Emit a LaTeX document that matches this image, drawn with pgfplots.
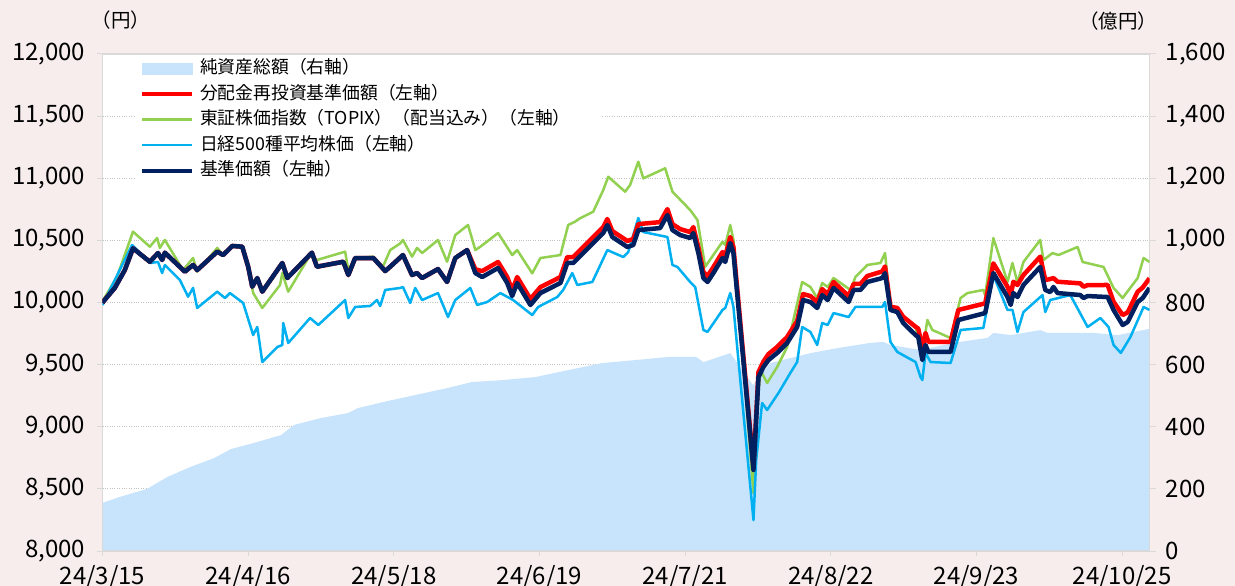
\documentclass[border=0pt]{standalone}
\usepackage{fontspec}
\setmainfont{Noto Sans CJK JP}
\usepackage{pgfplots}
\usepackage{pgfplotstable}
\pgfplotsset{compat=1.18}
\definecolor{bgpink}{RGB}{247,237,237}
\definecolor{areablue}{RGB}{200,228,252}
\definecolor{tpxgreen}{RGB}{146,208,80}
\definecolor{nblue}{RGB}{0,176,240}
\definecolor{navyb}{RGB}{0,32,96}
\definecolor{axgray}{RGB}{217,217,217}
\definecolor{gridgray}{RGB}{195,195,195}
\newcommand\tickfont{\fontsize{24bp}{28bp}\selectfont}
\newcommand\legfont{\fontsize{17.8bp}{20bp}\selectfont}
\newcommand\unitfont{\fontsize{19.5bp}{22bp}\selectfont}

\pgfplotstableread{
d aum
0 155
3.8 174
9.8 200
14.2 238
19.2 270
24.5 299
28.2 328
33.3 348
39.2 373
42.1 406
48.0 428
53.9 444
56.1 460
62.7 483
68.7 502
75.9 525
81.2 544
87.8 550
95.1 560
102.5 583
109.8 605
117.3 615
124.5 625
130.4 625
132.0 608
137.9 637
142.9 534
146.7 605
155.5 637
161.4 653
168.7 670
171.5 673
173.1 663
179.7 647
186.9 670
194.4 686
195.7 702
199.5 695
206.0 711
207.6 702
217.7 702
223.0 695
230.0 715
}\aumtable

\pgfplotstableread{
d v
0 10000
2.7 10117
4.9 10261
6.7 10436
10.4 10328
12.2 10398
13.1 10342
13.7 10401
18.1 10248
19.9 10302
20.8 10261
25.2 10409
26.5 10382
28.5 10455
30.7 10449
32.0 10288
32.9 10127
34.0 10197
35.1 10087
39.5 10318
40.6 10197
46.0 10401
47.1 10288
52.9 10328
54.0 10221
55.5 10358
59.5 10358
62.1 10253
63.2 10288
66.0 10382
68.0 10221
69.1 10237
70.2 10197
73.7 10269
75.7 10165
77.5 10358
80.1 10422
81.9 10237
83.4 10205
86.9 10278
88.9 10157
90.0 10052
91.1 10157
94.0 9980
96.2 10076
100.6 10157
102.1 10318
103.4 10318
110.0 10559
110.9 10624
112.0 10527
115.3 10447
116.6 10463
117.7 10583
122.5 10599
124.1 10704
125.2 10583
126.9 10543
129.1 10519
129.8 10559
130.9 10398
132.0 10197
132.9 10165
134.2 10237
136.2 10358
136.8 10326
137.9 10479
138.6 10398
143.0 8652
143.6 9054
144.1 9400
145.2 9481
146.3 9537
148.2 9594
150.4 9674
152.6 9803
153.9 10020
155.5 10004
157.0 9956
158.1 10060
159.3 10020
160.6 10117
163.9 10004
165.0 10101
166.5 10101
168.0 10165
171.3 10197
171.9 10237
173.1 9940
174.6 9923
175.9 9835
178.6 9738
179.2 9722
180.1 9537
180.8 9658
181.4 9602
186.3 9602
188.0 9859
193.9 9915
195.7 10237
198.8 10044
199.5 9980
200.1 10076
201.0 10044
202.3 10141
206.0 10286
207.1 10101
208.2 10084
208.9 10125
209.8 10076
214.8 10060
215.5 10036
216.4 10052
220.8 10044
222.1 9940
224.1 9819
225.2 9843
227.4 10004
228.5 10036
230.0 10117
}\navtable

\pgfplotstableread{
d v
0 10000
2.7 10117
4.9 10261
6.7 10436
10.4 10328
12.2 10398
13.1 10342
13.7 10401
18.1 10248
19.9 10302
20.8 10261
25.2 10409
26.5 10382
28.5 10455
30.7 10449
32.0 10288
32.9 10127
34.0 10197
35.1 10087
39.5 10318
40.6 10197
46.0 10401
47.1 10288
52.9 10328
54.0 10221
55.5 10358
59.5 10358
62.1 10253
63.2 10288
66.0 10382
68.0 10221
69.1 10237
70.2 10197
73.7 10269
75.7 10165
77.5 10358
80.1 10422
81.9 10267
83.4 10253
86.9 10326
88.9 10205
90.0 10100
91.1 10205
94.0 10028
96.2 10124
100.6 10205
102.1 10366
103.4 10366
110.0 10607
110.9 10672
112.0 10575
115.3 10495
116.6 10511
117.7 10631
122.5 10647
124.1 10752
125.2 10631
126.9 10591
129.1 10567
129.8 10607
130.9 10446
132.0 10245
132.9 10213
134.2 10285
136.2 10406
136.8 10374
137.9 10527
138.6 10446
143.0 8680
143.6 9090
144.1 9440
145.2 9525
146.3 9585
148.2 9642
150.4 9722
152.6 9851
153.9 10068
155.5 10052
157.0 10004
158.1 10108
159.3 10068
160.6 10165
163.9 10052
165.0 10149
166.5 10149
168.0 10213
171.3 10250
171.9 10290
173.1 9966
174.6 9956
175.9 9885
178.6 9805
179.2 9790
180.1 9634
180.8 9754
181.4 9684
186.3 9684
188.0 9940
193.9 9993
195.7 10315
198.8 10127
199.5 10060
200.1 10167
201.0 10141
202.3 10221
206.0 10369
207.1 10181
208.2 10189
208.9 10197
209.8 10167
214.8 10154
215.5 10127
216.4 10140
220.8 10141
222.1 10006
224.1 9899
225.2 9920
227.4 10087
228.5 10120
230.0 10195
}\redtable

\pgfplotstableread{
d v
0 10010
3.2 10208
6.7 10570
10.4 10449
12.0 10519
12.6 10439
13.7 10503
17.7 10261
19.9 10358
20.8 10248
25.2 10439
26.5 10382
28.5 10463
30.7 10449
32.0 10288
33.1 10076
35.1 9956
39.0 10141
39.5 10237
40.8 10087
45.6 10382
47.1 10342
53.3 10409
54.0 10261
55.5 10358
59.5 10369
61.6 10288
63.2 10422
65.4 10476
66.0 10503
68.0 10369
69.1 10439
70.2 10398
73.7 10503
75.7 10328
77.5 10543
80.3 10624
81.9 10422
83.0 10449
86.9 10559
90.0 10382
91.1 10422
94.4 10235
96.2 10358
100.6 10382
102.3 10624
103.8 10650
104.9 10678
107.8 10731
110.0 10905
111.1 11012
114.8 10892
115.9 10946
117.7 11133
118.8 10999
123.6 11080
125.2 10892
129.1 10744
130.7 10664
132.4 10288
136.2 10489
136.8 10463
137.9 10624
138.6 10503
143.0 8467
143.6 9054
144.5 9457
146.0 9352
148.2 9481
150.4 9642
153.7 10165
155.5 10125
157.0 10036
158.1 10157
159.3 10125
160.6 10197
164.3 10101
165.4 10205
168.0 10302
170.9 10318
171.9 10398
173.1 9956
174.6 9923
178.6 9803
180.1 9594
181.2 9859
182.3 9779
186.3 9714
188.5 10036
190.0 10076
193.5 10101
193.9 10060
195.7 10519
198.8 10165
199.9 10318
201.0 10157
202.3 10326
206.0 10503
206.7 10342
208.7 10398
210.0 10382
214.2 10447
215.3 10326
219.9 10286
222.1 10117
224.1 10036
227.4 10197
228.7 10358
230.0 10326
}\tpxtable

\pgfplotstableread{
d v
0 9980
6.5 10463
10.4 10318
12.2 10326
13.1 10237
13.7 10302
17.0 10181
18.8 10047
19.9 10117
20.8 9956
25.2 10087
26.9 10036
28.0 10076
30.9 9996
33.1 9738
34.0 9803
35.1 9521
38.4 9642
39.5 9658
39.7 9835
40.8 9674
45.6 9875
47.4 9819
53.3 10020
54.0 9875
55.5 9964
58.8 9972
60.3 10020
61.0 9972
62.1 10101
65.4 10117
66.0 10125
67.6 9996
68.7 10117
70.2 10020
73.7 10076
75.9 9883
77.5 10020
80.8 10117
82.3 9980
84.5 10004
87.4 10076
90.2 10020
94.4 9899
95.7 9964
99.9 10044
101.2 10101
103.2 10237
104.3 10141
107.6 10165
110.9 10422
114.4 10366
115.5 10406
117.7 10680
118.8 10567
124.1 10527
125.2 10302
126.3 10286
129.1 10165
130.2 10125
132.0 9779
132.9 9763
136.2 9940
136.8 9956
137.9 10076
138.6 9964
143.0 8249
143.6 8732
144.9 9191
146.0 9135
148.5 9272
151.1 9433
152.6 9521
153.7 9803
155.5 9763
157.0 9658
158.1 9835
159.3 9819
160.6 9915
163.9 9883
165.4 9964
171.3 9964
171.9 10004
173.1 9682
174.6 9602
178.6 9521
179.7 9400
180.1 9376
180.8 9594
181.9 9521
186.3 9513
188.5 9779
193.5 9795
195.7 10221
198.8 9940
199.9 9940
201.0 9763
202.3 9923
206.5 10060
207.1 9923
208.2 10020
212.6 10060
216.4 9803
219.2 9875
221.0 9803
222.1 9658
223.7 9594
225.8 9722
228.7 9964
230.0 9940
}\nbtable

\begin{document}
\begin{tikzpicture}
\path[use as bounding box, fill=bgpink] (-102.5bp,-35bp) rectangle (1132.5bp,551bp);

\begin{axis}[
  at={(0,0)}, anchor=south west,
  scale only axis, width=1047bp, height=497bp,
  xmin=0, xmax=230, ymin=0, ymax=1600,
  axis x line=none,
  axis y line*=right,
  axis line style={draw=axgray, line width=1.5bp},
  axis background/.style={fill=white},
  ytick={0,200,...,1600},
  ymajorgrids,
  grid style={draw=gridgray, dotted, line width=0.8bp},
  tick align=outside,
  major tick length=6bp,
  major tick style={draw=axgray, line width=1bp},
  scaled y ticks=false,
  yticklabel style={font=\tickfont, anchor=west, inner sep=0pt, xshift=10bp},
  /pgf/number format/1000 sep={,},
  /pgf/number format/assume math mode=true,
]
\addplot[fill=areablue, draw=none] table[x=d, y=aum] {\aumtable} \closedcycle;
\end{axis}

\begin{axis}[
  at={(0,0)}, anchor=south west,
  scale only axis, width=1047bp, height=497bp,
  xmin=0, xmax=230, ymin=8000, ymax=12000,
  clip mode=individual,
  axis line style={draw=axgray, line width=1.5bp},
  tick pos=left, tick align=outside,
  major tick length=5bp,
  major tick style={draw=axgray, line width=1bp},
  ytick={8000,8500,...,12000},
  scaled y ticks=false,
  xtick={0,32,...,224},
  xticklabels={24/3/15,24/4/16,24/5/18,24/6/19,24/7/21,24/8/22,24/9/23,24/10/25},
  yticklabel style={font=\tickfont, anchor=east, inner sep=0pt, xshift=-12bp},
  xticklabel style={font=\tickfont, anchor=base, inner sep=0pt, yshift=-28bp},
  /pgf/number format/1000 sep={,},
  /pgf/number format/assume math mode=true,
  legend cell align=left,
  legend style={
    at={(axis description cs:0.031,0.994)}, anchor=north west,
    draw=none, fill=white,
    inner xsep=5bp, inner ysep=3bp,
    font=\legfont,
    nodes={inner sep=0pt, text height=13.5bp, text depth=3.5bp},
    row sep=8.5bp,
    /tikz/every odd column/.append style={column sep=6bp},
  },
  after end axis/.code={
    \node[font=\unitfont, anchor=center] at (axis description cs:0.0175,1.068) {（円）};
    \node[font=\unitfont, anchor=center] at (axis description cs:0.970,1.066) {（億円）};
  },
]
\addlegendimage{legend image code/.code={\fill[areablue] (0bp,-5.5bp) rectangle (50bp,5.5bp);}}
\addlegendentry{純資産総額（右軸）}
\addlegendimage{legend image code/.code={\draw[red, line width=4bp] (0bp,0bp) -- (50bp,0bp);}}
\addlegendentry{分配金再投資基準価額（左軸）}
\addlegendimage{legend image code/.code={\draw[tpxgreen, line width=2.5bp] (0bp,0bp) -- (50bp,0bp);}}
\addlegendentry{東証株価指数（TOPIX）（配当込み）（左軸）\hspace*{26bp}}
\addlegendimage{legend image code/.code={\draw[nblue, line width=2.5bp] (0bp,0bp) -- (50bp,0bp);}}
\addlegendentry{日経500種平均株価（左軸）}
\addlegendimage{legend image code/.code={\draw[navyb, line width=4bp] (0bp,0bp) -- (50bp,0bp);}}
\addlegendentry{基準価額（左軸）}

\addplot[forget plot, tpxgreen, line width=2.5bp, line join=round] table[x=d, y=v] {\tpxtable};
\addplot[forget plot, nblue, line width=2.5bp, line join=round] table[x=d, y=v] {\nbtable};
\addplot[forget plot, red, line width=4.5bp, line join=round] table[x=d, y=v] {\redtable};
\addplot[forget plot, navyb, line width=4.5bp, line join=round] table[x=d, y=v] {\navtable};
\end{axis}
\end{tikzpicture}
\end{document}
